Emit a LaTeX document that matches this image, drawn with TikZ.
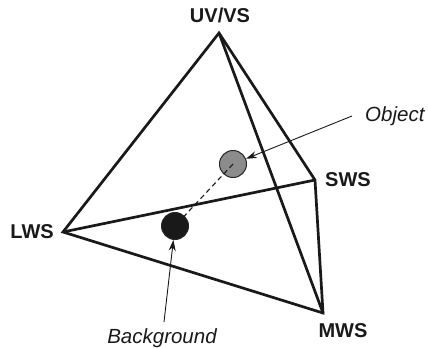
\documentclass[tikz,border=0pt]{standalone}
\usepackage{fontspec}
\setmainfont{Liberation Sans}
\usetikzlibrary{arrows.meta}
\begin{document}
\begin{tikzpicture}[x=1pt,y=-1pt,
  edge/.style={line width=2.7pt,line join=miter,black!90},
  vlabel/.style={font=\fontsize{20}{22}\selectfont\bfseries,text=black!90,inner sep=0pt},
  clabel/.style={font=\fontsize{20.5}{22}\selectfont\itshape,text=black!90,inner sep=0pt},
  ball/.style={circle,draw=black!85,line width=1pt,minimum size=27pt,inner sep=0pt},
  pointer/.style={line width=0.9pt,black!90,-{Stealth[length=11pt,width=7pt]}}]
\useasboundingbox (0,0) rectangle (428,348);
\coordinate (uv) at (219,33);
\coordinate (sws) at (315,180);
\coordinate (lws) at (63,232);
\coordinate (mws) at (323,313);
\draw[edge] (lws) -- (uv) -- (sws) -- (mws) -- cycle;
\draw[edge] (uv) -- (mws);
\draw[edge] (lws) -- (sws);
\node[ball,fill=black!45] (obj) at (233,164) {};
\node[ball,fill=black!90] (bg) at (175,226) {};
\draw[line width=1.1pt,dashed,dash pattern=on 5pt off 3.5pt,black!90] (obj.center) -- (bg.center);
\node[vlabel] (luv) at (220,15) {UV/VS};
\node[vlabel,anchor=west] (lsws) at (325,180) {SWS};
\node[vlabel,anchor=east] (llws) at (54,232) {LWS};
\node[vlabel] (lmws) at (343,331) {MWS};
\node[clabel,anchor=west] (lobj) at (365,116) {Object};
\node[clabel] (lbg) at (162,338) {Background};
\coordinate (objtail) at (352,116);
\coordinate (bgtail) at (164,322);
\draw[pointer] (objtail) -- (obj);
\draw[pointer] (bgtail) -- (bg);
\end{tikzpicture}
\end{document}
